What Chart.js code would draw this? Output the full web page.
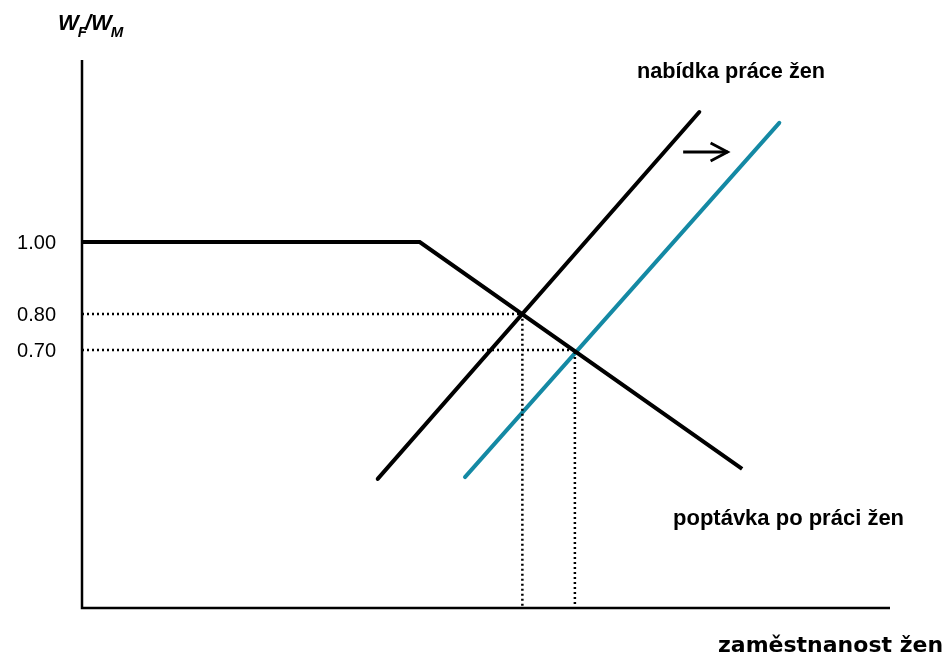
<!DOCTYPE html>
<html lang="cs">
<head>
    <meta charset="UTF-8">
    <title>Nabídka a poptávka po práci žen</title>
    <script src="https://cdn.jsdelivr.net/npm/chart.js"></script>
    <style>
        body { margin: 0; padding: 0; background: #fff; }
        #wrap { width: 945px; height: 655px; }
    </style>
</head>
<body>
    <div id="wrap"><canvas id="chart" width="945" height="655"></canvas></div>

    <script>
        // employment (arbitrary units 0-100) vs. relative wage W_F/W_M
        const demandX = [0, 41.8, 81.7];
        const demandY = [1.00, 1.00, 0.37];
        const supplyX = [36.6, 76.4];
        const supplyY = [0.342, 1.361];
        const supplyNewX = [47.4, 86.3];
        const supplyNewY = [0.347, 1.331];
        const equilibriumX = [54.5, 61.0];
        const equilibriumY = [0.80, 0.70];
        const arrowX = [74.4, 79.9];
        const arrowY = [1.25, 1.25];
        const tickValues = [1.00, 0.80, 0.70];
        const tickLabels = ['1.00', '0.80', '0.70'];

        const toPts = (xs, ys) => xs.map((x, i) => ({ x: x, y: ys[i] }));

        // dotted guide lines from axes to each equilibrium
        const guides = [];
        equilibriumX.forEach((x, i) => {
            guides.push({ x: 0, y: equilibriumY[i] }, { x: x, y: equilibriumY[i] }, { x: x, y: -0.0167 }, { x: NaN, y: NaN });
        });

        const decor = {
            id: 'decor',
            afterDatasetsDraw(chart) {
                const { ctx, chartArea: a, scales: { x, y } } = chart;
                ctx.save();
                // axes
                ctx.strokeStyle = '#000';
                ctx.lineWidth = 2.5;
                ctx.lineCap = 'butt';
                ctx.beginPath();
                ctx.moveTo(a.left, a.top);
                ctx.lineTo(a.left, a.bottom);
                ctx.lineTo(a.right, a.bottom);
                ctx.stroke();

                // shift arrow
                const x0 = x.getPixelForValue(arrowX[0]), x1 = x.getPixelForValue(arrowX[1]);
                const ay = y.getPixelForValue(arrowY[0]);
                ctx.lineWidth = 2.8;
                ctx.beginPath();
                ctx.moveTo(x0, ay);
                ctx.lineTo(x1, ay);
                ctx.stroke();
                ctx.beginPath();
                ctx.moveTo(x1 - 17, ay - 9);
                ctx.lineTo(x1, ay);
                ctx.lineTo(x1 - 17, ay + 9);
                ctx.stroke();

                // tick labels
                ctx.fillStyle = '#000';
                ctx.font = '20px "Liberation Sans", Arial, sans-serif';
                ctx.textAlign = 'right';
                ctx.textBaseline = 'middle';
                tickValues.forEach((v, i) => ctx.fillText(tickLabels[i], 56, y.getPixelForValue(v) + 1));

                // axis title y
                ctx.textAlign = 'left';
                ctx.textBaseline = 'alphabetic';
                ctx.font = 'italic bold 22px "Liberation Sans", Arial, sans-serif';
                let tx = 58;
                ctx.fillText('W', tx, 30); tx += ctx.measureText('W').width - 1;
                ctx.font = 'italic bold 15px "Liberation Sans", Arial, sans-serif';
                ctx.fillText('F', tx, 37); tx += ctx.measureText('F').width - 2;
                ctx.font = 'italic bold 22px "Liberation Sans", Arial, sans-serif';
                ctx.fillText('/W', tx, 30); tx += ctx.measureText('/W').width - 1;
                ctx.font = 'italic bold 15px "Liberation Sans", Arial, sans-serif';
                ctx.fillText('M', tx, 37);

                // curve labels
                ctx.font = 'bold 21.7px "Liberation Sans", Arial, sans-serif';
                ctx.textBaseline = 'middle';
                ctx.fillText('nabídka práce žen', 637, 72);
                ctx.font = 'bold 22px "Liberation Sans", Arial, sans-serif';
                ctx.fillText('poptávka po práci žen', 673, 519);
                ctx.font = 'bold 22px "DejaVu Sans", Verdana, sans-serif';
                ctx.fillText('zaměstnanost žen', 718, 646);
                ctx.restore();
            }
        };

        new Chart(document.getElementById('chart'), {
            type: 'scatter',
            data: {
                datasets: [
                    { label: 'guides', data: guides, borderColor: '#000', borderWidth: 2.5, borderDash: [2, 3], spanGaps: false },
                    { label: 'poptávka', data: toPts(demandX, demandY), borderColor: '#000', borderWidth: 4 },
                    { label: 'nabídka', data: toPts(supplyX, supplyY), borderColor: '#000', borderWidth: 4, borderCapStyle: 'round' },
                    { label: 'nabídka 2', data: toPts(supplyNewX, supplyNewY), borderColor: '#1489a4', borderWidth: 4, borderCapStyle: 'round' }
                ]
            },
            options: {
                responsive: false,
                animation: false,
                showLine: true,
                layout: { padding: { left: 82, right: 55, top: 60, bottom: 47 } },
                elements: { point: { radius: 0, hoverRadius: 0 }, line: { tension: 0, borderJoinStyle: 'miter' } },
                plugins: { legend: { display: false }, tooltip: { enabled: false } },
                scales: {
                    x: { type: 'linear', display: false, min: 0, max: 100 },
                    y: { type: 'linear', display: false, min: -0.0167, max: 1.5056 }
                }
            },
            plugins: [decor]
        });
    </script>
</body>
</html>
